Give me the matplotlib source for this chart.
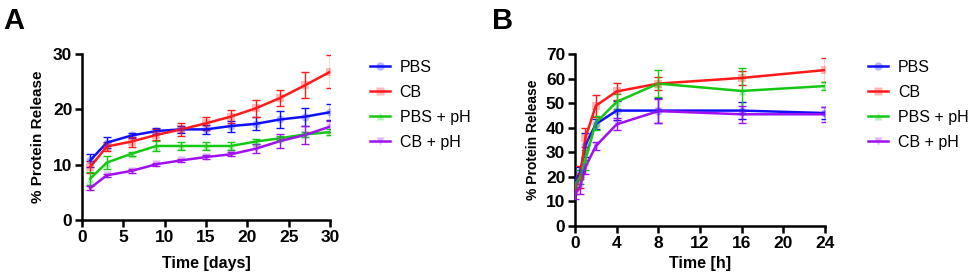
import numpy as np
import matplotlib
matplotlib.use("Agg")
import matplotlib.pyplot as plt
from matplotlib.lines import Line2D
from matplotlib.colors import to_rgba

plt.rcParams['font.family'] = ['Liberation Sans', 'DejaVu Sans']

labels = ["PBS", "CB", "PBS + pH", "CB + pH"]
colors = ["#1010ff", "#ff1a1a", "#14c814", "#a010f0"]
markers = ["o", "s", "^", "v"]

# panel A - days
days = [1, 3, 6, 9, 12, 15, 18, 21, 24, 27, 30]
a_pbs = [10.8, 14.0, 15.3, 16.1, 16.4, 16.4, 17.0, 17.4, 18.2, 18.7, 19.5]
a_cb = [9.6, 13.3, 14.2, 15.4, 16.4, 17.5, 18.7, 20.2, 22.1, 24.4, 26.8]
a_pbsph = [7.5, 10.4, 12.0, 13.4, 13.4, 13.4, 13.4, 14.2, 14.8, 15.5, 15.9]
a_cbph = [5.8, 8.1, 8.9, 10.1, 10.8, 11.4, 11.9, 12.9, 14.3, 15.4, 16.9]
a_pbs_err = [1.2, 1.0, 0.5, 0.5, 0.6, 0.8, 1.0, 1.2, 1.5, 1.6, 1.4]
a_cb_err = [1.0, 0.8, 0.9, 1.0, 1.2, 1.2, 1.2, 1.5, 1.5, 2.3, 3.0]
a_pbsph_err = [1.2, 1.2, 0.4, 0.9, 0.7, 0.7, 0.7, 0.4, 0.4, 0.5, 0.6]
a_cbph_err = [0.4, 0.3, 0.3, 0.3, 0.3, 0.3, 0.4, 0.8, 1.2, 1.7, 1.0]

# panel B - hours
hours = [0, 0.5, 1, 2, 4, 8, 16, 24]
b_pbs = [18, 22, 33, 41.5, 47, 47, 47, 46]
b_cb = [16, 20, 36, 49, 54.8, 58, 60.3, 63.5]
b_pbsph = [17, 20, 27, 42, 50.6, 58, 55, 57]
b_cbph = [13, 16, 24, 32.6, 41.4, 46.8, 45.5, 45.5]
b_pbs_err = [2, 2, 5, 2, 4, 5, 3.5, 2.5]
b_cb_err = [3, 4.5, 4, 4.5, 3.5, 2.5, 3, 5]
b_pbsph_err = [2, 3, 4, 3, 3, 5.5, 9.5, 1.5]
b_cbph_err = [2, 3, 3, 1.5, 2.5, 5, 3.5, 3]

fig = plt.figure(figsize=(9.69, 2.79), dpi=100)
axA = fig.add_axes([0.0846, 0.211, 0.256, 0.595])
axB = fig.add_axes([0.5934, 0.19, 0.258, 0.616])


def draw(ax, x, series, errs):
    for y, e, c, m in zip(series, errs, colors, markers):
        ax.errorbar(x, y, yerr=e, color=c, lw=1.8, elinewidth=1.0, capsize=3,
                    capthick=1.0, ecolor=c, zorder=3)
        ax.scatter(x, y, color=c, marker=m, s=34, alpha=0.3, lw=0, zorder=4)
    for s in ['top', 'right']:
        ax.spines[s].set_visible(False)
    for s in ['left', 'bottom']:
        ax.spines[s].set_linewidth(1.8)
    ax.tick_params(width=1.8, length=5, labelsize=12.5, pad=2)


def finish(ax):
    for t in ax.get_xticklabels() + ax.get_yticklabels():
        t.set_fontweight('bold')


draw(axA, days, [a_pbs, a_cb, a_pbsph, a_cbph],
     [a_pbs_err, a_cb_err, a_pbsph_err, a_cbph_err])
axA.set_xlim(0, 30)
axA.set_ylim(0, 30)
axA.set_xticks([0, 5, 10, 15, 20, 25, 30])
axA.set_yticks([0, 10, 20, 30])
finish(axA)
axA.set_xlabel("Time [days]", fontsize=11.5, fontweight='bold', labelpad=8)
axA.set_ylabel("% Protein Release", fontsize=11, fontweight='bold', labelpad=6)

draw(axB, hours, [b_pbs, b_cb, b_pbsph, b_cbph],
     [b_pbs_err, b_cb_err, b_pbsph_err, b_cbph_err])
axB.set_xlim(0, 24)
axB.set_ylim(0, 70)
axB.set_xticks([0, 4, 8, 12, 16, 20, 24])
axB.set_yticks(range(0, 71, 10))
finish(axB)
axB.set_xlabel("Time [h]", fontsize=11.5, fontweight='bold', labelpad=4)
axB.set_ylabel("% Protein Release", fontsize=10, fontweight='bold', labelpad=4)

handles = [Line2D([], [], color=c, lw=1.8, marker=m, ms=6,
                  mfc=to_rgba(c, 0.3), mec=to_rgba(c, 0.0))
           for c, m in zip(colors, markers)]
for lx in (0.382, 0.896):
    fig.legend(handles, labels, loc='upper left', bbox_to_anchor=(lx, 0.785),
               frameon=False, fontsize=11.5, handlelength=1.25,
               handletextpad=0.6, labelspacing=0.62, borderpad=0,
               borderaxespad=0)

fig.text(0.003, 0.975, "A", fontsize=21, fontweight='bold', va='top')
fig.text(0.508, 0.975, "B", fontsize=21, fontweight='bold', va='top')

fig.savefig("out.png", dpi=100)
